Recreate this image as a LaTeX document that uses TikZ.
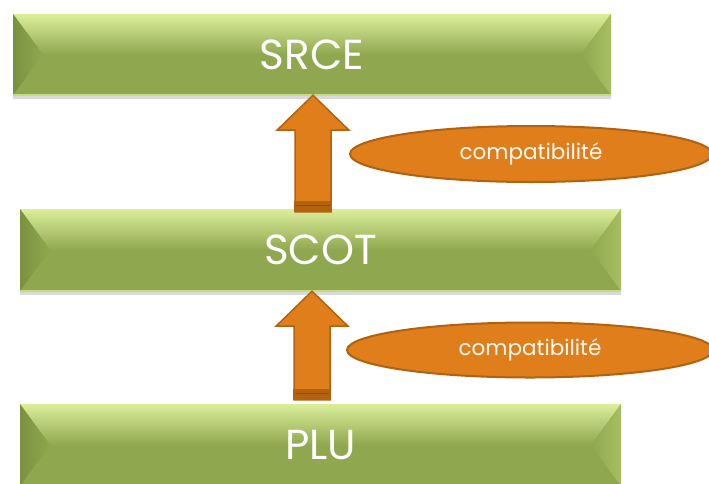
\documentclass[tikz,border=0pt]{standalone}
\usepackage{fontspec}
\setmainfont{Poppins}
\usetikzlibrary{shapes.geometric,shadows,calc}
\definecolor{gBody}{HTML}{8FA84F}
\definecolor{gTop}{HTML}{DCEE9A}
\definecolor{gDark}{HTML}{7A9240}
\definecolor{gLight}{HTML}{A6BF62}
\definecolor{gEdge}{HTML}{C6DB82}
\definecolor{oFill}{HTML}{E07E1B}
\definecolor{oLine}{HTML}{AF6210}
\definecolor{oDark}{HTML}{B5620F}
\tikzset{
  greenbox/.style={rectangle, inner sep=0pt, text=white, fill=gBody,
    font=\fontsize{42}{42}\selectfont,
    drop shadow={opacity=0.3, shadow xshift=0pt, shadow yshift=-4pt},
    path picture={
      \coordinate (pNW) at (path picture bounding box.north west);
      \coordinate (pSE) at (path picture bounding box.south east);
      \coordinate (pNE) at (path picture bounding box.north east);
      \coordinate (pSW) at (path picture bounding box.south west);
      \shade[top color=gTop, bottom color=gBody]
        (pNW) -- (pNE) -- ($(pNE)!0.5!(pSE)+(-30pt,0)$) -- ($(pNW)!0.5!(pSW)+(30pt,0)$) -- cycle;
      \shade[left color=gDark, right color=gBody]
        (pNW) -- ($(pNW)!0.5!(pSW)+(30pt,0)$) -- (pSW) -- cycle;
      \shade[left color=gBody, right color=gLight]
        (pNE) -- ($(pNE)!0.5!(pSE)+(-30pt,0)$) -- (pSE) -- cycle;
      \draw[gEdge, line width=1.5pt] (pSW) -- (pSE);
    }},
  blockarrow/.style={fill=oFill, draw=oLine, line width=1.5pt, line join=miter},
  compat/.style={ellipse, fill=oFill, draw=oLine, line width=2pt, inner sep=0pt,
    text=white!95!oFill, font=\fontsize{21.5}{21.5}\selectfont}
}
\newcommand\drawblockarrow[2]{%
  \filldraw[blockarrow] ($(#2)+(-18pt,0)$) -- ($(#1)+(-18pt,-35pt)$) -- ($(#1)+(-36pt,-35pt)$)
    -- (#1) -- ($(#1)+(36pt,-35pt)$) -- ($(#1)+(18pt,-35pt)$) -- ($(#2)+(18pt,0)$) -- cycle;
  \fill[oDark] ($(#2)+(-18pt,0)$) rectangle ($(#2)+(18pt,11pt)$);
  \draw[oLine!80!black, line width=1pt] ($(#2)+(-18pt,6pt)$) -- ($(#2)+(18pt,6pt)$);
  \draw[oLine, line width=1.5pt] ($(#2)+(-18pt,0)$) -- ($(#2)+(-18pt,11pt)$) ($(#2)+(18pt,0)$) -- ($(#2)+(18pt,11pt)$);
}
\begin{document}
\begin{tikzpicture}[x=1pt,y=-1pt]
\useasboundingbox (0,0) rectangle (709,483);
\node[greenbox, minimum width=598pt, minimum height=81pt] (srce) at (312,54.5) {SRCE};
\node[greenbox, minimum width=601pt, minimum height=82pt] (scot) at (320.5,250) {SCOT};
\node[greenbox, minimum width=601pt, minimum height=82pt] (plu) at (320.5,445) {PLU};
\coordinate (t1) at ($(srce.south)+(1pt,0)$);
\coordinate (b1) at ($(t1 |- scot.north)+(0,-3pt)$);
\coordinate (t2) at ($(t1 |- scot.south)+(-1pt,0)$);
\coordinate (b2) at ($(t2 |- plu.north)+(0,4pt)$);
\drawblockarrow{t1}{b1}
\drawblockarrow{t2}{b2}
\node[compat, minimum width=362pt, minimum height=56pt] (c1) at (531,154) {compatibilité};
\node[compat, minimum width=366pt, minimum height=55pt] (c2) at (530,350) {compatibilité};
\end{tikzpicture}
\end{document}
